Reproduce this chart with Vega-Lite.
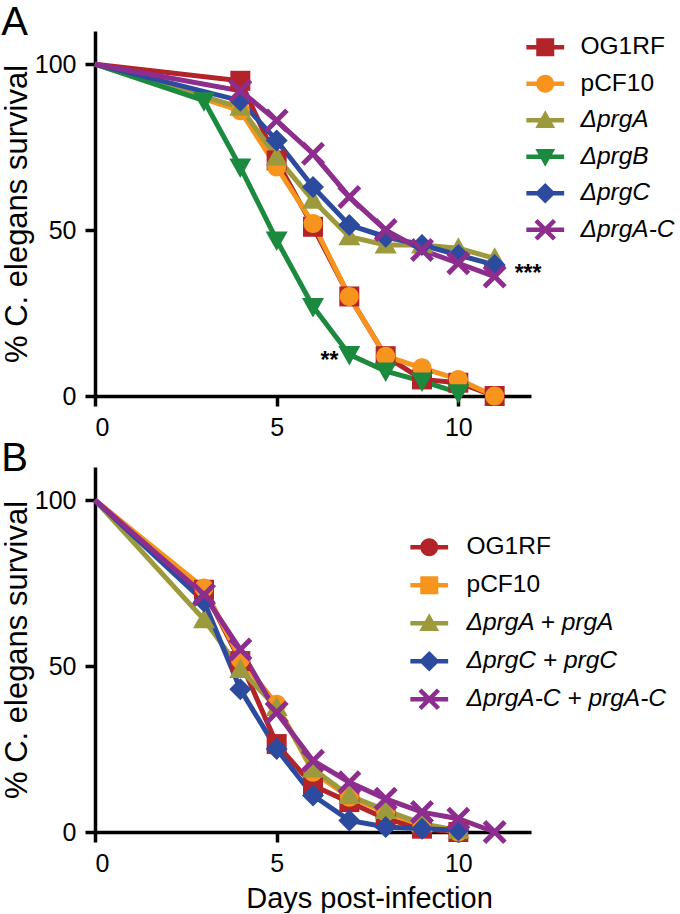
{
  "$schema": "https://vega.github.io/schema/vega-lite/v6.json",
  "background": "white",
  "padding": {"left": 1, "top": 3, "right": 0, "bottom": 0},
  "config": {
    "font": "Liberation Sans",
    "view": {"stroke": null},
    "axis": {"domainColor": "black", "domainWidth": 3.5, "tickColor": "black", "tickWidth": 3.5, "tickSize": 10, "labelFontSize": 25, "labelColor": "black", "labelFont": "Liberation Sans", "titleFont": "Liberation Sans", "titleFontSize": 31, "titleFontWeight": "normal", "titleColor": "black", "grid": false, "labelPadding": 9, "titlePadding": 1},
    "title": {"fontSize": 40, "fontWeight": "normal", "font": "Liberation Sans", "anchor": "start", "frame": "bounds", "color": "black"}
  },
  "datasets": {
    "survA": [
      {"strain": "OG1RF", "day": 0, "pct": 100}, {"strain": "OG1RF", "day": 4, "pct": 95}, {"strain": "OG1RF", "day": 5, "pct": 71}, {"strain": "OG1RF", "day": 6, "pct": 51}, {"strain": "OG1RF", "day": 7, "pct": 30}, {"strain": "OG1RF", "day": 8, "pct": 12}, {"strain": "OG1RF", "day": 9, "pct": 5}, {"strain": "OG1RF", "day": 10, "pct": 4}, {"strain": "OG1RF", "day": 11, "pct": 0},
      {"strain": "pCF10", "day": 0, "pct": 100}, {"strain": "pCF10", "day": 4, "pct": 86}, {"strain": "pCF10", "day": 5, "pct": 69}, {"strain": "pCF10", "day": 6, "pct": 52}, {"strain": "pCF10", "day": 7, "pct": 30}, {"strain": "pCF10", "day": 8, "pct": 12}, {"strain": "pCF10", "day": 9, "pct": 8.5}, {"strain": "pCF10", "day": 10, "pct": 5}, {"strain": "pCF10", "day": 11, "pct": 0},
      {"strain": "ΔprgA", "day": 0, "pct": 100}, {"strain": "ΔprgA", "day": 4, "pct": 87}, {"strain": "ΔprgA", "day": 5, "pct": 72}, {"strain": "ΔprgA", "day": 6, "pct": 59}, {"strain": "ΔprgA", "day": 7, "pct": 48}, {"strain": "ΔprgA", "day": 8, "pct": 45.5}, {"strain": "ΔprgA", "day": 9, "pct": 45.5}, {"strain": "ΔprgA", "day": 10, "pct": 44.5}, {"strain": "ΔprgA", "day": 11, "pct": 41.5},
      {"strain": "ΔprgB", "day": 0, "pct": 100}, {"strain": "ΔprgB", "day": 3, "pct": 89}, {"strain": "ΔprgB", "day": 4, "pct": 69}, {"strain": "ΔprgB", "day": 5, "pct": 47}, {"strain": "ΔprgB", "day": 6, "pct": 27}, {"strain": "ΔprgB", "day": 7, "pct": 12.5}, {"strain": "ΔprgB", "day": 8, "pct": 7.5}, {"strain": "ΔprgB", "day": 9, "pct": 4.5}, {"strain": "ΔprgB", "day": 10, "pct": 1},
      {"strain": "ΔprgC", "day": 0, "pct": 100}, {"strain": "ΔprgC", "day": 4, "pct": 89}, {"strain": "ΔprgC", "day": 5, "pct": 77}, {"strain": "ΔprgC", "day": 6, "pct": 63}, {"strain": "ΔprgC", "day": 7, "pct": 51.5}, {"strain": "ΔprgC", "day": 8, "pct": 48}, {"strain": "ΔprgC", "day": 9, "pct": 45.5}, {"strain": "ΔprgC", "day": 10, "pct": 42.5}, {"strain": "ΔprgC", "day": 11, "pct": 39.5},
      {"strain": "ΔprgA-C", "day": 0, "pct": 100}, {"strain": "ΔprgA-C", "day": 4, "pct": 92}, {"strain": "ΔprgA-C", "day": 5, "pct": 83}, {"strain": "ΔprgA-C", "day": 6, "pct": 73}, {"strain": "ΔprgA-C", "day": 7, "pct": 60}, {"strain": "ΔprgA-C", "day": 8, "pct": 50}, {"strain": "ΔprgA-C", "day": 9, "pct": 44}, {"strain": "ΔprgA-C", "day": 10, "pct": 40}, {"strain": "ΔprgA-C", "day": 11, "pct": 36}
    ],
    "notesA": [
      {"day": 7, "pct": 12.5, "note": "**"},
      {"day": 11, "pct": 38, "note": "***"}
    ],
    "survB": [
      {"strain": "OG1RF", "day": 0, "pct": 100}, {"strain": "OG1RF", "day": 3, "pct": 73}, {"strain": "OG1RF", "day": 4, "pct": 51.5}, {"strain": "OG1RF", "day": 5, "pct": 26.5}, {"strain": "OG1RF", "day": 6, "pct": 14}, {"strain": "OG1RF", "day": 7, "pct": 9}, {"strain": "OG1RF", "day": 8, "pct": 4}, {"strain": "OG1RF", "day": 9, "pct": 1}, {"strain": "OG1RF", "day": 10, "pct": 0},
      {"strain": "pCF10", "day": 0, "pct": 100}, {"strain": "pCF10", "day": 3, "pct": 73.5}, {"strain": "pCF10", "day": 4, "pct": 52}, {"strain": "pCF10", "day": 5, "pct": 38.5}, {"strain": "pCF10", "day": 6, "pct": 18}, {"strain": "pCF10", "day": 7, "pct": 10.5}, {"strain": "pCF10", "day": 8, "pct": 6}, {"strain": "pCF10", "day": 9, "pct": 2}, {"strain": "pCF10", "day": 10, "pct": 0},
      {"strain": "ΔprgA + prgA", "day": 0, "pct": 100}, {"strain": "ΔprgA + prgA", "day": 3, "pct": 64}, {"strain": "ΔprgA + prgA", "day": 4, "pct": 49}, {"strain": "ΔprgA + prgA", "day": 5, "pct": 37.5}, {"strain": "ΔprgA + prgA", "day": 6, "pct": 19}, {"strain": "ΔprgA + prgA", "day": 7, "pct": 11}, {"strain": "ΔprgA + prgA", "day": 8, "pct": 6.5}, {"strain": "ΔprgA + prgA", "day": 9, "pct": 2.5}, {"strain": "ΔprgA + prgA", "day": 10, "pct": 0.5},
      {"strain": "ΔprgC + prgC", "day": 0, "pct": 100}, {"strain": "ΔprgC + prgC", "day": 3, "pct": 69.5}, {"strain": "ΔprgC + prgC", "day": 4, "pct": 43}, {"strain": "ΔprgC + prgC", "day": 5, "pct": 25}, {"strain": "ΔprgC + prgC", "day": 6, "pct": 11}, {"strain": "ΔprgC + prgC", "day": 7, "pct": 3.5}, {"strain": "ΔprgC + prgC", "day": 8, "pct": 1.5}, {"strain": "ΔprgC + prgC", "day": 9, "pct": 1}, {"strain": "ΔprgC + prgC", "day": 10, "pct": 0.5},
      {"strain": "ΔprgA-C + prgA-C", "day": 0, "pct": 100}, {"strain": "ΔprgA-C + prgA-C", "day": 3, "pct": 71.5}, {"strain": "ΔprgA-C + prgA-C", "day": 4, "pct": 55}, {"strain": "ΔprgA-C + prgA-C", "day": 5, "pct": 36}, {"strain": "ΔprgA-C + prgA-C", "day": 6, "pct": 21.5}, {"strain": "ΔprgA-C + prgA-C", "day": 7, "pct": 15}, {"strain": "ΔprgA-C + prgA-C", "day": 8, "pct": 10}, {"strain": "ΔprgA-C + prgA-C", "day": 9, "pct": 6}, {"strain": "ΔprgA-C + prgA-C", "day": 10, "pct": 4}, {"strain": "ΔprgA-C + prgA-C", "day": 11, "pct": 0}
    ]
  },
  "bounds": "flush",
  "spacing": 71,
  "resolve": {
    "scale": {"color": "independent", "fill": "independent", "shape": "independent"},
    "legend": {"color": "independent", "fill": "independent", "shape": "independent"}
  },
  "vconcat": [
    {
      "title": {"text": "A", "offset": -12},
      "width": 436,
      "height": 365,
      "data": {"name": "survA"},
      "encoding": {
        "x": {"field": "day", "type": "quantitative", "scale": {"domain": [0, 12], "nice": false}, "axis": {"values": [0, 5, 10], "title": null}},
        "y": {"field": "pct", "type": "quantitative", "scale": {"domain": [0, 110], "nice": false}, "axis": {"values": [0, 50, 100], "title": "% C. elegans survival"}},
        "color": {"field": "strain", "type": "nominal", "scale": {"domain": ["OG1RF", "pCF10", "ΔprgA", "ΔprgB", "ΔprgC", "ΔprgA-C", "other"], "range": ["#B3242A", "#F7941E", "#9D9A3D", "#1B8A3E", "#2C4A9E", "#8D2D8E", "#000000"]}, "legend": null}
      },
      "layer": [
        {"mark": {"type": "line", "strokeWidth": 5}},
        {"transform": [{"filter": "datum.strain == 'OG1RF' && datum.day > 0"}], "mark": {"type": "point", "filled": true, "opacity": 1, "size": 400, "shape": "M-1,-1H1V1H-1Z"}},
        {"transform": [{"filter": "datum.strain == 'pCF10' && datum.day > 0"}], "mark": {"type": "point", "filled": true, "opacity": 1, "size": 400, "shape": "M0.95,0A0.95,0.95 0 1,1 -0.95,0A0.95,0.95 0 1,1 0.95,0Z"}},
        {"transform": [{"filter": "datum.strain == 'ΔprgA' && datum.day > 0"}], "mark": {"type": "point", "filled": true, "opacity": 1, "size": 400, "shape": "M0,-1.1L1.1,0.85L-1.1,0.85Z"}},
        {"transform": [{"filter": "datum.strain == 'ΔprgB' && datum.day > 0"}], "mark": {"type": "point", "filled": true, "opacity": 1, "size": 400, "shape": "M-1.1,-0.85L1.1,-0.85L0,1.1Z"}},
        {"transform": [{"filter": "datum.strain == 'ΔprgC' && datum.day > 0"}], "mark": {"type": "point", "filled": true, "opacity": 1, "size": 400, "shape": "M0,-1.1L1.1,0L0,1.1L-1.1,0Z"}},
        {"transform": [{"filter": "datum.strain == 'ΔprgA-C' && datum.day > 0"}], "mark": {"type": "point", "filled": true, "opacity": 1, "size": 400, "shape": "M-1.2,-0.85L-0.85,-1.2L0,-0.35L0.85,-1.2L1.2,-0.85L0.35,0L1.2,0.85L0.85,1.2L0,0.35L-0.85,1.2L-1.2,0.85L-0.35,0Z"}},
        {
          "transform": [{"filter": "datum.day < 0"}],
          "mark": {"type": "point", "filled": true, "opacity": 1},
          "encoding": {
            "fill": {"field": "strain", "type": "nominal", "scale": {"domain": ["OG1RF", "pCF10", "ΔprgA", "ΔprgB", "ΔprgC", "ΔprgA-C"], "range": ["#B3242A", "#F7941E", "#9D9A3D", "#1B8A3E", "#2C4A9E", "#8D2D8E"]},
              "legend": {"title": null, "orient": "none", "legendX": 438, "legendY": 4, "labelFontSize": 24.5, "labelFont": "Liberation Sans", "labelColor": "black", "symbolSize": 324, "symbolStrokeWidth": 0, "labelOffset": 23, "rowPadding": 11.5, "labelLimit": 300, "labelFontStyle": {"expr": "datum.value == 'OG1RF' || datum.value == 'pCF10' ? 'normal' : 'italic'"}}},
            "shape": {"field": "strain", "type": "nominal", "scale": {"domain": ["OG1RF", "pCF10", "ΔprgA", "ΔprgB", "ΔprgC", "ΔprgA-C"], "range": [
              "M-2.1,-0.25H2.1V0.25H-2.1Z M-1,-1H1V1H-1Z",
              "M-2.1,-0.25H2.1V0.25H-2.1Z M1,0A1,1 0 1,1 -1,0A1,1 0 1,1 1,0Z",
              "M-2.1,-0.25H2.1V0.25H-2.1Z M0,-1.1L1.1,0.85L-1.1,0.85Z",
              "M-2.1,-0.25H2.1V0.25H-2.1Z M-1.1,-0.85L1.1,-0.85L0,1.1Z",
              "M-2.1,-0.25H2.1V0.25H-2.1Z M0,-1.15L1.15,0L0,1.15L-1.15,0Z",
              "M-2.1,-0.25H2.1V0.25H-2.1Z M-1.2,-0.85L-0.85,-1.2L0,-0.35L0.85,-1.2L1.2,-0.85L0.35,0L1.2,0.85L0.85,1.2L0,0.35L-0.85,1.2L-1.2,0.85L-0.35,0Z"]},
              "legend": {"title": null, "orient": "none", "legendX": 438, "legendY": 4, "labelFontSize": 24.5, "labelFont": "Liberation Sans", "labelColor": "black", "symbolSize": 324, "symbolStrokeWidth": 0, "labelOffset": 23, "rowPadding": 11.5, "labelLimit": 300, "labelFontStyle": {"expr": "datum.value == 'OG1RF' || datum.value == 'pCF10' ? 'normal' : 'italic'"}}}
          }
        },
        {
          "data": {"name": "notesA"},
          "transform": [{"filter": "datum.note == '**'"}],
          "mark": {"type": "text", "align": "right", "baseline": "middle", "dx": -11, "dy": 6, "fontSize": 23, "fontWeight": "bold"},
          "encoding": {"text": {"field": "note"}, "color": {"value": "black"}}
        },
        {
          "data": {"name": "notesA"},
          "transform": [{"filter": "datum.note == '***'"}],
          "mark": {"type": "text", "align": "left", "baseline": "middle", "dx": 20, "dy": 4, "fontSize": 23, "fontWeight": "bold"},
          "encoding": {"text": {"field": "note"}, "color": {"value": "black"}}
        }
      ]
    },
    {
      "title": {"text": "B", "offset": -12},
      "width": 436,
      "height": 365,
      "data": {"name": "survB"},
      "encoding": {
        "x": {"field": "day", "type": "quantitative", "scale": {"domain": [0, 12], "nice": false}, "axis": {"values": [0, 5, 10], "title": "Days post-infection", "titlePadding": 8, "titleFontSize": 29, "titleX": 274}},
        "y": {"field": "pct", "type": "quantitative", "scale": {"domain": [0, 110], "nice": false}, "axis": {"values": [0, 50, 100], "title": "% C. elegans survival"}},
        "color": {"field": "strain", "type": "nominal", "scale": {"domain": ["OG1RF", "pCF10", "ΔprgA + prgA", "ΔprgC + prgC", "ΔprgA-C + prgA-C", "other"], "range": ["#B3242A", "#F7941E", "#9D9A3D", "#2C4A9E", "#8D2D8E", "#000000"]}, "legend": null}
      },
      "layer": [
        {"mark": {"type": "line", "strokeWidth": 5}},
        {"transform": [{"filter": "datum.strain == 'OG1RF' && datum.day > 0"}], "mark": {"type": "point", "filled": true, "opacity": 1, "size": 400, "shape": "M-1,-1H1V1H-1Z"}},
        {"transform": [{"filter": "datum.strain == 'pCF10' && datum.day > 0"}], "mark": {"type": "point", "filled": true, "opacity": 1, "size": 400, "shape": "M0.95,0A0.95,0.95 0 1,1 -0.95,0A0.95,0.95 0 1,1 0.95,0Z"}},
        {"transform": [{"filter": "datum.strain == 'ΔprgA + prgA' && datum.day > 0"}], "mark": {"type": "point", "filled": true, "opacity": 1, "size": 400, "shape": "M0,-1.1L1.1,0.85L-1.1,0.85Z"}},
        {"transform": [{"filter": "datum.strain == 'ΔprgC + prgC' && datum.day > 0"}], "mark": {"type": "point", "filled": true, "opacity": 1, "size": 400, "shape": "M0,-1.1L1.1,0L0,1.1L-1.1,0Z"}},
        {"transform": [{"filter": "datum.strain == 'ΔprgA-C + prgA-C' && datum.day > 0"}], "mark": {"type": "point", "filled": true, "opacity": 1, "size": 400, "shape": "M-1.2,-0.85L-0.85,-1.2L0,-0.35L0.85,-1.2L1.2,-0.85L0.35,0L1.2,0.85L0.85,1.2L0,0.35L-0.85,1.2L-1.2,0.85L-0.35,0Z"}},
        {
          "transform": [{"filter": "datum.day < 0"}],
          "mark": {"type": "point", "filled": true, "opacity": 1},
          "encoding": {
            "fill": {"field": "strain", "type": "nominal", "scale": {"domain": ["OG1RF", "pCF10", "ΔprgA + prgA", "ΔprgC + prgC", "ΔprgA-C + prgA-C"], "range": ["#B3242A", "#F7941E", "#9D9A3D", "#2C4A9E", "#8D2D8E"]},
              "legend": {"title": null, "orient": "none", "legendX": 322, "legendY": 68, "labelFontSize": 24.5, "labelFont": "Liberation Sans", "labelColor": "black", "symbolSize": 324, "symbolStrokeWidth": 0, "labelOffset": 25, "rowPadding": 13, "labelLimit": 300, "labelFontStyle": {"expr": "datum.value == 'OG1RF' || datum.value == 'pCF10' ? 'normal' : 'italic'"}}},
            "shape": {"field": "strain", "type": "nominal", "scale": {"domain": ["OG1RF", "pCF10", "ΔprgA + prgA", "ΔprgC + prgC", "ΔprgA-C + prgA-C"], "range": [
              "M-2.1,-0.25H2.1V0.25H-2.1Z M1,0A1,1 0 1,1 -1,0A1,1 0 1,1 1,0Z",
              "M-2.1,-0.25H2.1V0.25H-2.1Z M-1,-1H1V1H-1Z",
              "M-2.1,-0.25H2.1V0.25H-2.1Z M0,-1.1L1.1,0.85L-1.1,0.85Z",
              "M-2.1,-0.25H2.1V0.25H-2.1Z M0,-1.15L1.15,0L0,1.15L-1.15,0Z",
              "M-2.1,-0.25H2.1V0.25H-2.1Z M-1.2,-0.85L-0.85,-1.2L0,-0.35L0.85,-1.2L1.2,-0.85L0.35,0L1.2,0.85L0.85,1.2L0,0.35L-0.85,1.2L-1.2,0.85L-0.35,0Z"]},
              "legend": {"title": null, "orient": "none", "legendX": 322, "legendY": 68, "labelFontSize": 24.5, "labelFont": "Liberation Sans", "labelColor": "black", "symbolSize": 324, "symbolStrokeWidth": 0, "labelOffset": 25, "rowPadding": 13, "labelLimit": 300, "labelFontStyle": {"expr": "datum.value == 'OG1RF' || datum.value == 'pCF10' ? 'normal' : 'italic'"}}}
          }
        }
      ]
    }
  ]
}
